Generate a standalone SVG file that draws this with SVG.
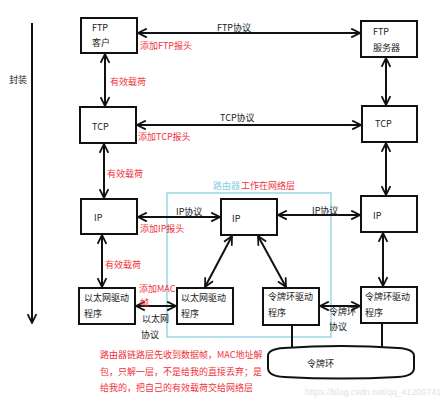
<svg xmlns="http://www.w3.org/2000/svg" width="448" height="400" viewBox="0 0 448 400">
<style>
.box{fill:#fff;stroke:#111;stroke-width:2}
.ln{fill:none;stroke:#111;stroke-width:2}
.t{font-family:"Noto Sans CJK SC","Liberation Sans",sans-serif;font-size:9px;fill:#222}
.r{font-family:"Noto Sans CJK SC","Liberation Sans",sans-serif;font-size:9px;fill:#f0323c}
.b{font-family:"Noto Sans CJK SC","Liberation Sans",sans-serif;font-size:9px;fill:#7fd0e6}
.w{font-family:"Liberation Sans",sans-serif;font-size:9px;fill:#e2e2e2}
</style>
<defs>
<marker id="ah" viewBox="0 0 10 10" refX="9" refY="5" markerWidth="11" markerHeight="11" markerUnits="userSpaceOnUse" orient="auto-start-reverse">
<path d="M1,1 L9,5 L1,9" fill="none" stroke="#111" stroke-width="1.6"/>
</marker>
</defs>
<rect width="448" height="400" fill="#fff"/>

<g id="router-frame">
<rect x="167" y="193" width="164" height="144" fill="none" stroke="#9fd9e6" stroke-width="1.6"/>
<text class="b" x="213" y="189">路由器</text><text class="r" x="241" y="189">工作在网络层</text>
</g>

<g id="connectors">
<line class="ln" x1="32" y1="23" x2="32" y2="323" marker-end="url(#ah)"/>
<line class="ln" x1="105" y1="54" x2="105" y2="106" marker-start="url(#ah)" marker-end="url(#ah)"/>
<line class="ln" x1="138" y1="33" x2="360" y2="33" marker-start="url(#ah)" marker-end="url(#ah)"/>
<line class="ln" x1="137" y1="125" x2="361" y2="125" marker-start="url(#ah)" marker-end="url(#ah)"/>
<line class="ln" x1="104" y1="144" x2="104" y2="198" marker-start="url(#ah)" marker-end="url(#ah)"/>
<line class="ln" x1="386" y1="58" x2="386" y2="105" marker-start="url(#ah)" marker-end="url(#ah)"/>
<line class="ln" x1="386" y1="143" x2="386" y2="195" marker-start="url(#ah)" marker-end="url(#ah)"/>
<line class="ln" x1="138" y1="217" x2="220" y2="217" marker-start="url(#ah)" marker-end="url(#ah)"/>
<line class="ln" x1="278" y1="215" x2="360" y2="215" marker-start="url(#ah)" marker-end="url(#ah)"/>
<line class="ln" x1="102" y1="235" x2="102" y2="287" marker-start="url(#ah)" marker-end="url(#ah)"/>
<line class="ln" x1="383" y1="233" x2="383" y2="286" marker-start="url(#ah)" marker-end="url(#ah)"/>
<line class="ln" x1="232" y1="236" x2="205" y2="287" marker-start="url(#ah)" marker-end="url(#ah)"/>
<line class="ln" x1="258" y1="236" x2="286" y2="287" marker-start="url(#ah)" marker-end="url(#ah)"/>
<line class="ln" x1="136" y1="306" x2="176" y2="306" marker-start="url(#ah)" marker-end="url(#ah)"/>
<line class="ln" x1="320" y1="306" x2="360" y2="306" marker-start="url(#ah)" marker-end="url(#ah)"/>
<line class="ln" x1="292" y1="325" x2="292" y2="348"/>
<line class="ln" x1="382" y1="323" x2="382" y2="348"/>
</g>

<g id="labels">
<text class="t" x="9" y="83">封装</text>
<text class="t" x="217" y="31">FTP协议</text>
<text class="r" x="140" y="49">添加FTP报头</text>
<text class="r" x="110" y="85">有效载荷</text>
<text class="t" x="220" y="121">TCP协议</text>
<text class="r" x="138" y="140">添加TCP报头</text>
<text class="r" x="107" y="177">有效载荷</text>
<text class="t" x="176" y="215">IP协议</text>
<text class="r" x="140" y="232">添加IP报头</text>
<text class="t" x="312" y="214">IP协议</text>
<text class="r" x="105" y="268">有效载荷</text>
<text class="r" x="139" y="292">添加MAC</text>
<text class="r" x="140" y="306">帧</text>
<text class="t" x="142" y="322">以太网</text>
<text class="t" x="141" y="338">协议</text>
<text class="t" x="329" y="315">令牌环</text>
<text class="t" x="329" y="330">协议</text>
</g>

<g id="ftp-client"><rect class="box" x="81" y="18" width="56" height="35"/>
<text class="t" x="92" y="31">FTP</text><text class="t" x="92" y="46">客户</text></g>
<g id="ftp-server"><rect class="box" x="361" y="21" width="56" height="36"/>
<text class="t" x="373" y="35">FTP</text><text class="t" x="373" y="51">服务器</text></g>
<g id="tcp-left"><rect class="box" x="80" y="107" width="56" height="36"/>
<text class="t" x="92" y="130">TCP</text></g>
<g id="tcp-right"><rect class="box" x="362" y="106" width="55" height="36"/>
<text class="t" x="375" y="127">TCP</text></g>
<g id="ip-left"><rect class="box" x="81" y="199" width="56" height="35"/>
<text class="t" x="94" y="221">IP</text></g>
<g id="ip-router"><rect class="box" x="221" y="199" width="56" height="36"/>
<text class="t" x="232" y="222">IP</text></g>
<g id="ip-right"><rect class="box" x="361" y="196" width="56" height="36"/>
<text class="t" x="373" y="219">IP</text></g>
<g id="eth-left"><rect class="box" x="79" y="288" width="56" height="36"/>
<text class="t" x="84" y="301">以太网驱动</text><text class="t" x="84" y="317">程序</text></g>
<g id="eth-router"><rect class="box" x="177" y="288" width="56" height="36"/>
<text class="t" x="181" y="301">以太网驱动</text><text class="t" x="181" y="317">程序</text></g>
<g id="tr-router"><rect class="box" x="263" y="288" width="56" height="37"/>
<text class="t" x="268" y="300">令牌环驱动</text><text class="t" x="268" y="316">程序</text></g>
<g id="tr-right"><rect class="box" x="361" y="287" width="56" height="36"/>
<text class="t" x="365" y="300">令牌环驱动</text><text class="t" x="365" y="316">程序</text></g>
<g id="token-ring">
<path class="box" d="M268,356 Q268,349 284,348 Q341,344 398,348 Q414,349 414,356 L414,368 Q414,376 398,377 Q341,380 284,377 Q268,376 268,368 Z"/>
<text class="t" x="307" y="367">令牌环</text></g>

<g id="note">
<text class="r" x="100" y="358">路由器链路层先收到数据帧，MAC地址解</text>
<text class="r" x="100" y="375">包，只解一层，不是给我的直接丢弃；是</text>
<text class="r" x="100" y="391">给我的，把自己的有效载荷交给网络层</text>
</g>
<text class="w" x="305" y="395" textLength="136" lengthAdjust="spacingAndGlyphs">https://blog.csdn.net/qq_41209741</text>
</svg>
